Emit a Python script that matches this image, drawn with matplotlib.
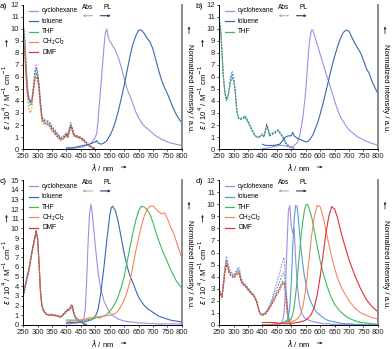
import numpy as np
import matplotlib
matplotlib.use("Agg")
import matplotlib.pyplot as plt

plt.rcParams['font.family'] = ['Liberation Sans Narrow', 'Liberation Sans', 'DejaVu Sans']
plt.rcParams['mathtext.fontset'] = 'dejavusans'

solvents = ['cyclohexane', 'toluene', 'THF', 'CH$_2$Cl$_2$', 'DMF']
colors = {'cyclohexane': '#9d8fe6', 'toluene': '#3569b0', 'THF': '#3dba5c',
          'CH$_2$Cl$_2$': '#f5875f', 'DMF': '#e0303c'}
colors_d = dict(colors, toluene='#5b9bd5')

################ panel a ################
a_abs_wl = [250, 255, 260, 265, 270, 275, 280, 285, 290, 295, 300, 305, 310, 315, 320, 330, 340,
            350, 360, 370, 380, 390, 400, 405, 410, 415, 420, 425, 430, 440, 450, 460, 470, 480, 490, 500]
a_abs = {
    'cyclohexane': [10.6, 9.6, 7.2, 5.2, 4.3, 3.9, 4.1, 5.1, 6.4, 7.0, 6.5, 5.5, 4.0, 2.8, 2.5, 2.4, 2.3,
                    1.9, 1.6, 1.3, 1.0, 1.1, 1.4, 1.2, 1.7, 2.2, 1.8, 1.3, 1.2, 1.1, 1.0, 0.8, 0.5, 0.3, 0.15, 0.05],
    'toluene': [10.4, 9.3, 7.0, 5.0, 4.2, 3.8, 4.0, 5.0, 6.2, 6.7, 6.3, 5.3, 3.8, 2.7, 2.4, 2.3, 2.2,
                1.8, 1.5, 1.2, 0.9, 1.0, 1.3, 1.1, 1.6, 2.0, 1.7, 1.2, 1.1, 1.0, 0.9, 0.7, 0.5, 0.3, 0.1, 0.05],
    'THF': [10.2, 9.1, 6.8, 4.9, 4.0, 3.6, 3.8, 4.8, 6.0, 6.4, 6.0, 5.0, 3.6, 2.5, 2.3, 2.2, 2.1,
            1.7, 1.4, 1.1, 0.8, 0.9, 1.2, 1.0, 1.5, 1.9, 1.6, 1.2, 1.1, 1.0, 0.9, 0.7, 0.4, 0.2, 0.1, 0.0],
    'CH$_2$Cl$_2$': [9.6, 8.5, 6.0, 4.2, 3.4, 3.0, 3.4, 4.6, 5.8, 6.2, 5.8, 4.8, 3.3, 2.3, 2.1, 2.0, 1.9,
                     1.5, 1.2, 0.9, 0.7, 0.8, 1.1, 0.9, 1.4, 1.8, 1.5, 1.1, 1.0, 0.9, 0.8, 0.6, 0.4, 0.2, 0.1, 0.0],
    'DMF': [9.2, 8.2, 6.0, 4.6, 4.2, 4.0, 4.0, 4.8, 5.6, 6.0, 5.9, 5.2, 3.8, 2.6, 2.2, 2.1, 2.0,
            1.6, 1.3, 1.0, 0.8, 0.9, 1.2, 1.0, 1.5, 1.9, 1.7, 1.3, 1.1, 1.0, 0.9, 0.8, 0.5, 0.3, 0.1, 0.0],
}
a_pl_wl = [400, 420, 440, 460, 470, 480, 490, 500, 505, 510, 520, 530, 535, 540, 545, 550, 560, 570, 580,
           590, 600, 610, 620, 630, 640, 650, 660, 670, 680, 690, 700, 710, 720, 730, 740, 750, 760, 770,
           780, 790, 800]
a_pl = {
    'cyclohexane': [0.05, 0.05, 0.1, 0.2, 0.3, 0.4, 0.6, 1.0, 1.3, 2.5, 5.5, 8.5, 9.7, 10.0, 9.3, 9.0, 8.6, 8.2,
                    7.6, 6.8, 5.9, 5.0, 4.4, 3.8, 3.1, 2.6, 2.2, 1.9, 1.7, 1.5, 1.3, 1.1, 0.95, 0.8, 0.7,
                    0.6, 0.5, 0.45, 0.4, 0.35, 0.3],
    'toluene': [0.1, 0.1, 0.2, 0.3, 0.35, 0.4, 0.5, 0.6, 0.7, 0.5, 0.4, 0.5, 0.6, 0.7, 0.9, 1.1, 1.6, 2.3, 3.2,
                4.2, 5.3, 6.5, 7.7, 8.7, 9.4, 9.9, 9.9, 9.6, 9.2, 8.9, 8.3, 7.4, 6.5, 5.7, 5.1, 4.6, 4.0,
                3.4, 2.9, 2.5, 2.2],
}

################ panel b ################
b_abs_wl = [250, 255, 260, 265, 270, 275, 280, 285, 290, 295, 300, 305, 310, 315, 320, 330, 340, 350,
            360, 370, 380, 390, 400, 405, 410, 415, 420, 425, 430, 440, 450, 455, 460, 470, 480, 490, 500, 510]
b_abs = {
    'cyclohexane': [10.6, 10.0, 8.0, 6.0, 4.8, 4.2, 4.4, 5.2, 6.1, 6.5, 6.0, 5.1, 3.6, 2.7, 2.5, 2.5, 2.6,
                    2.2, 1.7, 1.2, 1.0, 1.0, 1.3, 1.1, 1.6, 2.1, 1.7, 1.1, 1.2, 1.3, 1.4, 1.5, 1.3, 1.0,
                    0.5, 0.2, 0.1, 0.05],
    'toluene': [10.5, 9.9, 7.9, 5.9, 4.7, 4.1, 4.3, 5.0, 5.8, 6.2, 5.8, 5.0, 3.5, 2.7, 2.5, 2.5, 2.7,
                2.3, 1.8, 1.3, 1.0, 1.0, 1.2, 1.0, 1.5, 2.0, 1.6, 1.1, 1.2, 1.3, 1.5, 1.55, 1.4, 1.0,
                0.5, 0.2, 0.1, 0.05],
    'THF': [10.8, 10.2, 8.0, 5.9, 4.6, 4.0, 4.2, 4.9, 5.6, 5.9, 5.7, 4.9, 3.4, 2.6, 2.5, 2.6, 2.8,
            2.4, 1.8, 1.3, 1.0, 1.0, 1.2, 1.0, 1.4, 1.9, 1.6, 1.2, 1.3, 1.4, 1.55, 1.6, 1.4, 1.1,
            0.6, 0.3, 0.1, 0.05],
}
b_pl_wl = [400, 410, 420, 440, 460, 470, 480, 490, 500, 505, 510, 520, 530, 540, 550, 555, 560, 565, 570,
           575, 580, 590, 600, 610, 620, 630, 640, 650, 660, 670, 680, 690, 700, 710, 720, 730, 740, 750,
           760, 770, 780, 790, 800]
b_pl = {
    'cyclohexane': [0.05, 0.05, 0.1, 0.2, 0.3, 0.3, 0.25, 0.2, 0.2, 0.2, 0.3, 0.5, 1.2, 2.6, 4.8, 6.5, 8.2, 9.3,
                    9.9, 9.9, 9.5, 8.7, 7.9, 7.1, 6.3, 5.6, 4.8, 4.0, 3.3, 2.7, 2.3, 1.9, 1.6, 1.4, 1.2,
                    1.0, 0.9, 0.75, 0.65, 0.55, 0.45, 0.4, 0.3],
    'toluene': [0.4, 0.3, 0.3, 0.3, 0.4, 0.7, 1.0, 1.1, 1.1, 1.4, 1.1, 0.9, 0.8, 0.7, 0.6, 0.6, 0.7, 0.8, 1.0,
                1.2, 1.5, 2.1, 2.9, 3.8, 4.8, 5.8, 6.8, 7.7, 8.5, 9.2, 9.7, 9.9, 9.8, 9.3, 8.8, 8.4, 8.0,
                7.4, 6.7, 6.3, 5.6, 5.1, 4.6],
}

################ panel c ################
c_abs_wl = [250, 260, 270, 280, 290, 295, 300, 305, 310, 315, 320, 330, 340, 350, 360, 370, 380, 390,
            400, 405, 410, 415, 420, 425, 430, 440, 450, 460, 470]
c_abs = {
    'cyclohexane': [3.1, 4.6, 5.9, 7.6, 9.1, 9.8, 9.1, 6.6, 3.6, 2.1, 1.6, 1.2, 1.1, 1.1, 1.0, 1.0, 0.9, 1.2,
                    1.5, 1.7, 1.6, 1.8, 1.7, 1.2, 0.8, 0.5, 0.3, 0.15, 0.05],
    'toluene': [3.0, 4.5, 5.8, 7.5, 9.0, 9.7, 9.0, 6.5, 3.5, 2.0, 1.5, 1.1, 1.0, 1.1, 1.0, 0.95, 0.8, 1.1,
                1.4, 1.6, 1.5, 1.9, 2.0, 1.3, 0.8, 0.5, 0.3, 0.15, 0.05],
    'THF': [3.0, 4.4, 5.7, 7.4, 8.9, 9.6, 8.9, 6.4, 3.4, 2.0, 1.5, 1.1, 1.0, 1.0, 1.0, 0.9, 0.8, 1.1,
            1.4, 1.5, 1.5, 1.8, 1.9, 1.3, 0.8, 0.5, 0.3, 0.1, 0.05],
    'CH$_2$Cl$_2$': [2.9, 4.3, 5.6, 7.3, 8.8, 9.5, 8.9, 6.4, 3.4, 1.9, 1.4, 1.1, 1.0, 1.0, 0.9, 0.9, 0.8, 1.0,
                     1.3, 1.5, 1.5, 1.9, 2.0, 1.3, 0.8, 0.5, 0.3, 0.1, 0.05],
    'DMF': [2.9, 4.3, 5.6, 7.4, 8.9, 9.6, 9.0, 6.5, 3.5, 2.0, 1.5, 1.1, 1.0, 1.0, 1.0, 0.9, 0.8, 1.1,
            1.4, 1.6, 1.6, 2.0, 2.1, 1.4, 0.9, 0.5, 0.3, 0.1, 0.05],
}
c_pl_wl = [400, 420, 440, 450, 460, 465, 470, 475, 480, 485, 490, 495, 500, 505, 510, 515, 520, 530, 540,
           550, 555, 560, 570, 580, 590, 600, 610, 620, 630, 640, 650, 660, 670, 680, 690, 700, 710, 720,
           730, 740, 750, 760, 770, 780, 790, 800]
c_pl = {
    'cyclohexane': [0.1, 0.15, 0.2, 0.3, 0.5, 1.5, 4.5, 8.5, 11.5, 12.5, 11.5, 9.8, 8.2, 6.8, 5.4, 4.4, 3.6,
                    2.5, 1.8, 1.3, 1.1, 1.0, 0.8, 0.6, 0.5, 0.4, 0.35, 0.3, 0.3, 0.25, 0.2, 0.2, 0.2, 0.15,
                    0.15, 0.15, 0.1, 0.1, 0.1, 0.1, 0.1, 0.1, 0.1, 0.1, 0.1, 0.1],
    'toluene': [0.2, 0.25, 0.3, 0.3, 0.3, 0.35, 0.4, 0.4, 0.5, 0.5, 0.6, 0.7, 0.9, 1.2, 1.7, 2.5, 3.5, 6.0, 8.8,
                11.3, 12.1, 12.3, 11.8, 10.6, 9.0, 7.4, 6.1, 5.1, 4.4, 3.6, 2.9, 2.4, 2.0, 1.7, 1.5, 1.3,
                1.1, 0.9, 0.8, 0.7, 0.6, 0.5, 0.45, 0.4, 0.35, 0.3],
    'THF': [0.5, 0.5, 0.5, 0.5, 0.5, 0.5, 0.5, 0.55, 0.6, 0.6, 0.6, 0.65, 0.7, 0.8, 0.75, 0.7, 0.8, 0.9, 1.1,
            1.4, 1.6, 1.8, 2.3, 3.0, 3.9, 5.0, 6.5, 8.0, 9.5, 10.8, 11.8, 12.3, 12.2, 11.9, 11.4, 10.6,
            9.6, 8.7, 7.9, 7.2, 6.5, 5.8, 5.2, 4.6, 4.2, 3.8],
    'CH$_2$Cl$_2$': [0.3, 0.4, 0.5, 0.5, 0.6, 0.6, 0.65, 0.7, 0.75, 0.75, 0.8, 0.8, 0.8, 0.85, 0.85, 0.85, 0.9,
                     0.9, 0.95, 1.0, 1.0, 1.1, 1.2, 1.5, 2.0, 2.6, 3.4, 4.5, 6.0, 7.6, 9.0, 10.3, 11.3, 12.0,
                     12.3, 12.3, 12.0, 11.7, 11.5, 11.6, 11.0, 10.2, 9.6, 8.7, 7.8, 6.9],
}

################ panel d ################
d_abs_wl = [250, 255, 260, 265, 270, 275, 280, 285, 290, 295, 300, 305, 310, 315, 320, 325, 330, 340, 350,
            360, 370, 380, 385, 390, 395, 400, 410, 420, 430, 440, 450, 460, 465, 470, 475, 480, 485, 490,
            495, 500]
d_abs = {
    'cyclohexane': [3.0, 2.7, 2.5, 3.7, 4.8, 5.7, 5.2, 4.7, 4.4, 4.3, 4.2, 4.3, 4.5, 4.8, 4.7, 4.0, 3.6, 3.4,
                    3.1, 2.8, 2.5, 2.0, 1.5, 1.1, 0.9, 0.85, 1.0, 1.4, 1.9, 2.7, 3.5, 4.3, 4.8, 5.3, 5.6, 3.5,
                    1.2, 0.3, 0.1, 0.0],
    'toluene': [2.9, 2.6, 2.4, 3.5, 4.6, 5.4, 5.0, 4.5, 4.3, 4.2, 4.1, 4.2, 4.4, 4.6, 4.5, 3.9, 3.5, 3.3,
                3.0, 2.7, 2.5, 2.0, 1.5, 1.1, 0.9, 0.85, 1.0, 1.3, 1.8, 2.4, 3.0, 3.6, 3.9, 4.2, 4.3, 3.6,
                2.0, 0.7, 0.2, 0.0],
    'THF': [3.0, 2.6, 2.4, 3.4, 4.5, 5.3, 4.9, 4.4, 4.2, 4.1, 4.0, 4.1, 4.3, 4.5, 4.4, 3.8, 3.5, 3.3,
            3.0, 2.7, 2.5, 2.0, 1.5, 1.1, 0.9, 0.85, 1.0, 1.3, 1.7, 2.2, 2.7, 3.1, 3.4, 3.6, 3.6, 2.6,
            1.2, 0.4, 0.1, 0.0],
    'CH$_2$Cl$_2$': [2.9, 2.5, 2.3, 3.3, 4.4, 5.2, 4.8, 4.3, 4.1, 4.0, 3.9, 4.0, 4.2, 4.4, 4.3, 3.7, 3.4, 3.2,
                     2.9, 2.6, 2.4, 1.9, 1.4, 1.0, 0.85, 0.8, 0.9, 1.2, 1.6, 2.1, 2.6, 3.0, 3.3, 3.5, 3.5,
                     2.5, 1.1, 0.3, 0.1, 0.0],
    'DMF': [2.8, 2.5, 2.3, 3.2, 4.3, 5.0, 4.7, 4.3, 4.1, 4.0, 3.9, 4.0, 4.1, 4.3, 4.2, 3.7, 3.4, 3.2,
            2.9, 2.6, 2.4, 1.9, 1.4, 1.0, 0.85, 0.8, 0.9, 1.2, 1.6, 2.0, 2.5, 2.9, 3.2, 3.4, 3.5, 3.0,
            1.8, 0.7, 0.2, 0.0],
}
d_pl_wl = [400, 440, 460, 470, 475, 480, 485, 490, 495, 500, 505, 510, 515, 520, 525, 530, 535, 540, 545,
           550, 555, 560, 570, 580, 590, 600, 610, 620, 630, 640, 650, 660, 670, 680, 690, 700, 720, 740,
           760, 780, 800]
d_pl = {
    'cyclohexane': [0.0, 0.0, 0.05, 0.3, 1.0, 3.0, 6.5, 9.5, 9.9, 8.2, 7.6, 8.0, 5.5, 3.6, 2.3, 1.5, 1.1, 0.8,
                    0.6, 0.5, 0.45, 0.4, 0.3, 0.25, 0.2, 0.15, 0.1, 0.1, 0.1, 0.05, 0.05, 0.05, 0.05, 0.05,
                    0.05, 0.05, 0.0, 0.0, 0.0, 0.0, 0.0],
    'toluene': [0.0, 0.05, 0.1, 0.15, 0.2, 0.3, 0.4, 0.6, 1.5, 3.5, 6.5, 8.8, 9.9, 9.8, 8.7, 7.3, 6.0, 5.0,
                4.1, 3.5, 2.9, 2.4, 1.8, 1.3, 1.0, 0.8, 0.6, 0.45, 0.35, 0.3, 0.25, 0.2, 0.15, 0.1, 0.1,
                0.1, 0.05, 0.05, 0.0, 0.0, 0.0],
    'THF': [0.0, 0.05, 0.1, 0.15, 0.2, 0.25, 0.3, 0.35, 0.4, 0.5, 0.9, 1.5, 2.5, 3.6, 5.0, 6.3, 7.6, 8.6,
            9.4, 9.9, 10.0, 9.8, 9.0, 7.8, 6.5, 5.3, 4.3, 3.5, 2.8, 2.2, 1.7, 1.4, 1.1, 0.9, 0.7, 0.55,
            0.35, 0.2, 0.15, 0.1, 0.05],
    'CH$_2$Cl$_2$': [0.0, 0.05, 0.1, 0.1, 0.15, 0.15, 0.2, 0.2, 0.25, 0.3, 0.3, 0.35, 0.4, 0.5, 0.6, 0.8, 1.1,
                     1.5, 2.2, 3.0, 4.0, 5.1, 7.3, 9.0, 9.9, 9.8, 9.0, 7.8, 6.7, 5.6, 4.7, 3.9, 3.3, 2.8, 2.4,
                     2.0, 1.4, 1.0, 0.8, 0.6, 0.5],
    'DMF': [0.2, 0.2, 0.15, 0.15, 0.1, 0.1, 0.1, 0.1, 0.1, 0.15, 0.15, 0.15, 0.2, 0.2, 0.2, 0.25, 0.3, 0.3,
            0.35, 0.4, 0.5, 0.6, 0.9, 1.5, 2.5, 4.0, 5.8, 7.6, 9.0, 9.8, 9.6, 8.9, 7.9, 7.0, 6.2, 5.4,
            4.1, 3.0, 2.1, 1.5, 1.1],
}

panels = [
    ('a)', [0.059, 0.573, 0.405, 0.413], 12, a_abs_wl, a_abs, a_pl_wl, a_pl, solvents, colors),
    ('b)', [0.559, 0.573, 0.405, 0.413], 12, b_abs_wl, b_abs, b_pl_wl, b_pl, solvents[:3], colors),
    ('c)', [0.059, 0.069, 0.405, 0.415], 15, c_abs_wl, c_abs, c_pl_wl, c_pl, solvents, colors),
    ('d)', [0.559, 0.069, 0.405, 0.415], 12, d_abs_wl, d_abs, d_pl_wl, d_pl, solvents, colors_d),
]

fs = 5.5
lfs = 4.7
fig = plt.figure(figsize=(3.92, 3.49), dpi=100)

for letter, rect, ymax, abs_wl, absd, pl_wl, pld, legend, cols in panels:
    ax = fig.add_axes(rect)
    for s, y in absd.items():
        ax.plot(abs_wl, y, color=cols[s], lw=0.8, ls=(0, (1.6, 1.2)))
    for s, y in pld.items():
        ax.plot(pl_wl, y, color=cols[s], lw=0.8)
    ax.set_xlim(250, 800)
    ax.set_ylim(0, ymax)
    ax.set_xticks(np.arange(250, 801, 50))
    ax.set_yticks(np.arange(0, ymax + 1, 1))
    ax.tick_params(labelsize=fs, length=1.5, width=0.6, pad=1.5, colors='#222222')
    ax.spines['top'].set_visible(False)
    ax.spines['left'].set_linewidth(0.7)
    ax.spines['bottom'].set_linewidth(0.7)
    ax.spines['right'].set_color('#8a8a8a')
    ax.spines['right'].set_linewidth(1.4)

    # legend
    for i, s in enumerate(legend):
        yy = 0.958 - i * 0.072
        ax.plot([0.038, 0.094], [yy, yy], transform=ax.transAxes, color=cols[s], lw=0.9, clip_on=False)
        ax.text(0.12, yy, s, transform=ax.transAxes, fontsize=lfs, va='center', ha='left')

    # Abs / PL
    ax.text(0.405, 1.005, 'Abs', transform=ax.transAxes, fontsize=lfs, ha='center', va='top')
    ax.text(0.53, 1.005, 'PL', transform=ax.transAxes, fontsize=lfs, ha='center', va='top')
    ax.annotate('', xy=(0.355, 0.925), xytext=(0.455, 0.925), xycoords='axes fraction',
                arrowprops=dict(arrowstyle='-|>', color='#a8b4c0', lw=0.8, mutation_scale=3))
    ax.annotate('', xy=(0.57, 0.925), xytext=(0.47, 0.925), xycoords='axes fraction',
                arrowprops=dict(arrowstyle='-|>', color='#2a4270', lw=0.8, mutation_scale=3))

    # axis labels
    ax.text(0.5, -0.125, r'$\lambda$ / nm', transform=ax.transAxes, fontsize=fs, ha='center', va='center')
    ax.annotate('', xy=(0.67, -0.125), xytext=(0.6, -0.125), xycoords='axes fraction',
                arrowprops=dict(arrowstyle='-|>', color='#333333', lw=0.6, mutation_scale=3))
    ax.text(-0.105, 0.36, r'$\varepsilon$ / 10$^4$ / M$^{-1}$ cm$^{-1}$', transform=ax.transAxes,
            fontsize=fs, rotation=90, ha='center', va='center')
    ax.annotate('', xy=(-0.105, 0.78), xytext=(-0.105, 0.69), xycoords='axes fraction',
                arrowprops=dict(arrowstyle='-|>', color='#333333', lw=0.6, mutation_scale=3))
    ax.text(1.045, 0.42, 'Normalized intensity / a.u.', transform=ax.transAxes, fontsize=fs,
            rotation=-90, ha='center', va='center')
    ax.annotate('', xy=(1.045, 0.87), xytext=(1.045, 0.78), xycoords='axes fraction',
                arrowprops=dict(arrowstyle='-|>', color='#333333', lw=0.6, mutation_scale=3))
    ax.text(-0.125, 0.99, letter, transform=ax.transAxes, fontsize=fs + 0.5, ha='center', va='center')

fig.savefig('out.png', dpi=100)
